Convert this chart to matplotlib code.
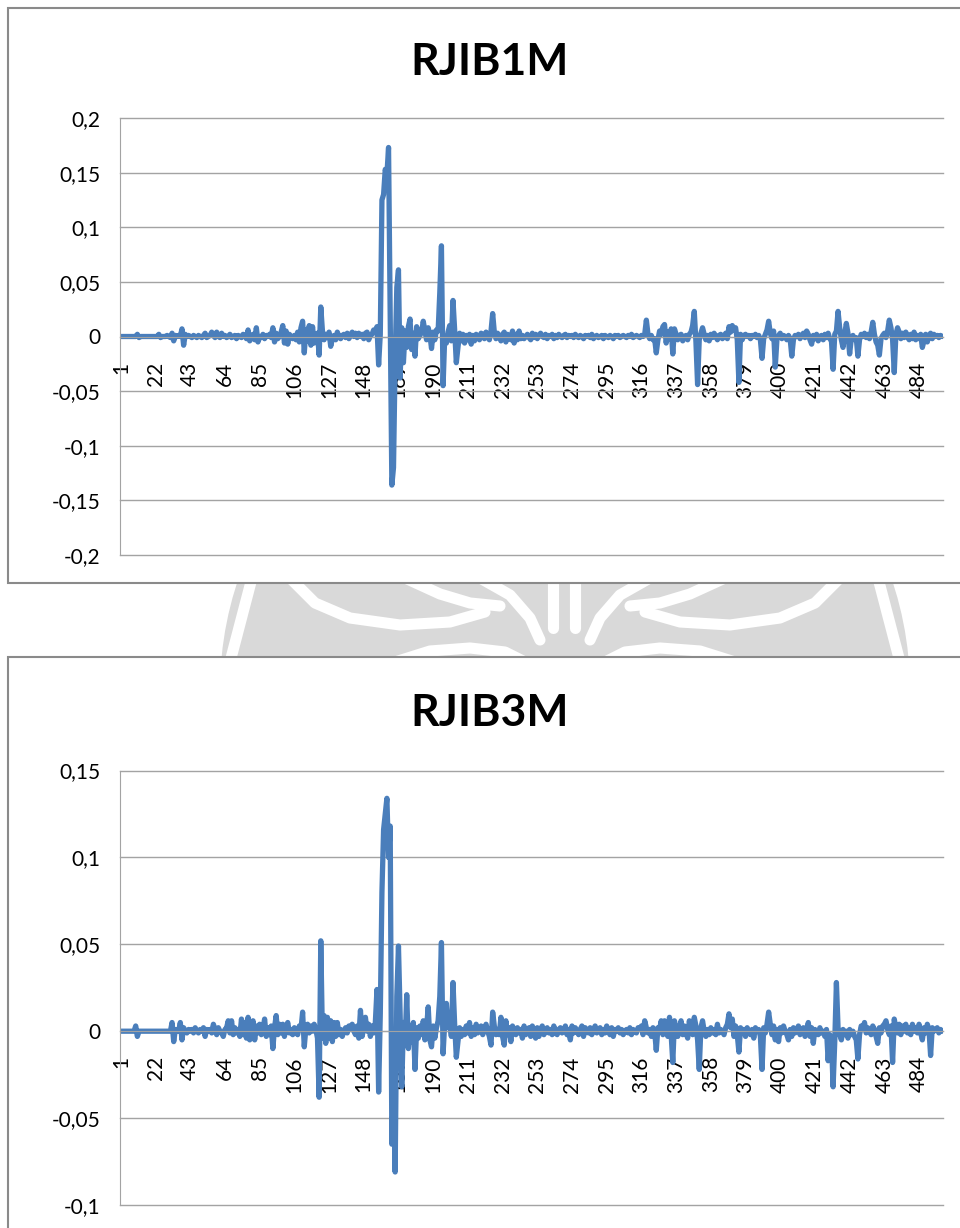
import numpy as np
import matplotlib
matplotlib.use("Agg")
import matplotlib.pyplot as plt
from matplotlib.patches import Rectangle, Circle

plt.rcParams["font.family"] = ["Lato", "DejaVu Sans"]

# series values, in thousandths
rjib1m_milli = [
    0, 0, 0, 0, 0, 0, 0, 0, 0, 0, 2, -1, 0, 0, 0, 0, 0, 0, 0, 0, 0,
    0, 0, 2, -1, 0, 0, 0, 1, 0, -1, 3, -4, 1, 0, 1, 0, 7, -8, 2, 0, 1,
    0, -1, 1, 0, -1, 1, 0, -1, 1, 3, -1, 0, 1, 4, 1, -1, 4, 0, -1, 3, 0,
    1, -1, 0, 2, -1, 0, 1, -2, 1, 0, -1, 2, 1, -2, 6, -4, 0, 2, -3, 8, -5,
    0, -1, 2, -2, 1, 0, 2, -1, 8, -5, 3, -2, 0, 4, 10, -6, 5, -7, 2, 0, -2,
    1, -3, 4, -5, 8, 14, -15, 6, -4, 10, -8, 9, -6, 2, 3, -17, 27, 5, -3, 2, -1,
    4, -9, -2, 1, -3, 4, 0, -2, 1, 2, -1, 3, -2, 1, 4, 0, 3, -1, 3, 0, 2,
    -2, 3, 4, -3, 1, 2, 6, 4, 9, -26, 2, 125, 130, 153, 148, 173, 20, -136, -120, -20, 45,
    61, -38, 8, -24, 5, -10, 9, 16, -12, 3, -18, 9, -2, 1, 4, 14, 5, -3, 8, 2, -11,
    4, -3, 6, 5, 40, 83, -45, 0, -6, 4, 10, -4, 33, 6, -24, -10, 3, -4, 2, -6, 1,
    -3, 2, -7, 1, -4, 2, 0, -3, 3, 2, -2, 4, 0, -3, 5, 21, 4, -2, 3, 0, -4,
    2, 4, -5, 2, 0, -3, 5, -6, 2, -3, 5, -2, 1, -2, 0, 2, -1, -3, 3, -1, 2,
    -2, 1, 3, 0, -1, 2, -2, 1, 0, 2, -2, 1, -1, 2, 0, -1, 1, 2, -1, 1, 0,
    1, -1, 2, 0, -1, 1, 0, -2, 1, 0, 1, -1, 2, -2, 0, 1, -1, 0, 1, -2, 1,
    0, -1, 1, 0, -2, 1, 0, 1, -1, 0, 1, 0, -1, 1, 0, 2, -1, 0, 1, 0, -1,
    1, 0, 2, 15, 2, -2, 1, -3, -2, -15, -3, 5, 2, 9, 11, -6, 4, -2, 7, -16, 7,
    2, -3, 1, 2, -4, 0, 1, -3, 2, 4, 10, 23, -5, -44, -3, 3, 8, 2, -3, 1, -4,
    2, -1, 3, 0, -3, 1, 2, -2, 0, 3, -2, 9, 4, 10, 6, 8, -3, -42, 2, -3, 1,
    2, 0, 1, -2, 1, 0, 2, -1, 1, -3, -20, -2, 2, 6, 14, 3, -2, 5, -28, -3, 1,
    3, -2, 1, 0, -3, 1, -2, -18, -3, 1, 0, 2, -2, 1, 3, -1, 5, 2, -3, -7, 1,
    -2, 2, -4, 0, 1, -3, 2, -1, 3, -2, -4, -30, 2, 5, 23, 8, -3, -10, 2, 12, 3,
    -16, -2, 1, -3, -1, -18, -3, 2, 0, 3, -1, 2, -2, 4, 13, 2, -5, -8, -17, -2, 1,
    3, -1, 5, 15, 8, -3, -33, 2, 8, 4, -2, 3, -1, 4, 0, -3, 2, -2, 4, -3, 1,
    -2, 2, -10, -4, 2, -5, 1, 3, -2, 2, 0, 1, -1, 1, 0,
]

rjib3m_milli = [
    0, 0, 0, 0, 0, 0, 0, 0, 0, 3, -3, 0, 0, 0, 0, 0, 0, 0, 0, 0, 0,
    0, 0, 0, 0, 0, 0, 0, 0, 0, 0, 5, -6, 1, 0, 0, 5, -5, 2, 0, -1, 1,
    0, 1, -1, 2, 0, -1, 1, 0, 2, -3, 1, 0, 1, -1, 4, 1, -2, 2, 0, -1, -3,
    1, 2, 6, -1, 6, -2, 2, -1, 1, -3, 7, -2, 5, -4, 8, -5, 2, 6, -5, 3, -1,
    4, -2, 1, 7, -3, 2, -2, 3, -10, 2, 9, -2, 4, -1, 4, -3, 2, 5, -1, 1, -2,
    2, 0, -2, 3, 1, 11, -9, 2, 4, -1, 3, 0, 4, 1, -4, -38, 52, -4, 9, -7, 8,
    -4, 6, -6, 5, -3, 5, -2, 1, -3, 0, 2, -1, 3, 1, 4, 0, -2, 3, -4, 12, -3,
    2, 8, 0, 4, -3, 3, -1, 5, 24, -35, 10, 80, 116, 125, 134, 100, 118, -65, -30, -81, 20,
    49, 10, -32, 5, -8, 21, -10, 3, -6, 5, -22, 2, -4, 3, -2, 6, -5, 2, 14, -5, -9,
    3, -4, 2, 6, 20, 51, -13, 5, 16, 2, 6, -3, 28, 4, -15, -6, 2, -3, 1, -2, 3,
    -1, 5, -3, 2, -2, 4, -1, 0, 3, -2, 1, 4, 0, -3, -8, 11, 3, -2, 1, -2, 8,
    -3, -8, 6, -2, 2, -6, 3, 0, -2, 2, -1, 1, -4, 3, -2, 1, 2, -3, 3, -1, -4,
    2, -3, 1, 3, -2, 0, 2, -1, 1, -2, 3, 0, -2, 1, 2, -1, 0, 3, -2, 1, -5,
    3, -1, 2, 0, -2, 1, 3, -3, 2, 0, -1, 2, -2, 1, 3, -1, 0, 2, -2, 1, -1,
    3, 0, -2, 2, -3, 1, 0, 2, -1, 1, -2, 0, 1, -1, 2, -2, 1, 0, -1, 2, 1,
    3, -2, 6, 2, -1, 1, -3, 2, 0, -11, 2, 1, 6, -2, 6, 2, -3, 8, -2, -18, 6,
    1, -3, 2, 6, -2, 3, -1, -4, 6, 2, -2, 8, 3, -5, -22, 2, 6, 0, -3, 1, -2,
    2, -1, 1, -2, 4, -1, 1, 0, -2, 2, 4, 10, 2, 7, -3, 3, -2, -12, 2, -1, 1,
    -3, 2, 0, -2, 1, -4, 2, 0, 1, -3, -22, 2, -1, 4, 11, 4, -2, 3, -5, 1, -6,
    2, -1, 3, 0, -2, -5, 1, -3, 2, -1, 0, 3, -2, 1, 2, -3, 1, 5, -3, 2, -7,
    1, 0, -2, 2, -1, 0, -3, 1, -17, -2, -5, -32, -6, 28, 2, -2, -5, 1, -2, 0, -4,
    1, -2, 0, -3, -5, -16, -2, 3, 1, 5, -1, 2, 0, -2, 3, 1, -3, -7, 2, -1, 3,
    4, 6, 1, -2, 3, -18, 7, 2, -1, 4, -2, 3, 0, 4, -1, 2, -2, 4, 0, 2, -1,
    4, -1, -5, 2, -1, 4, 1, -14, 2, 0, 1, 2, -1, 1, 0,
]

x_tick_labels = [1, 22, 43, 64, 85, 106, 127, 148, 169, 190, 211, 232, 253,
                 274, 295, 316, 337, 358, 379, 400, 421, 442, 463, 484]
yticks_1m = [-0.2, -0.15, -0.1, -0.05, 0, 0.05, 0.1, 0.15, 0.2]
yticks_3m = [-0.1, -0.05, 0, 0.05, 0.1, 0.15]

LINE_COLOR = "#4a7ebb"
GRID_COLOR = "#a3a3a3"
W, H = 960, 1228

fig = plt.figure(figsize=(W / 100, H / 100), dpi=100)

# background layer in pixel coordinates: watermark + chart frames
bg = fig.add_axes([0, 0, 1, 1], zorder=0)
bg.set_xlim(0, W)
bg.set_ylim(H, 0)
bg.axis("off")

bg.add_patch(Circle((565, 690), 345, color="#d9d9d9", lw=0))
strokes = [
    [(230, 662), (252, 578)],
    [(900, 662), (878, 578)],
    [(290, 578), (315, 603), (350, 618), (400, 625), (450, 622), (485, 612)],
    [(840, 578), (815, 603), (780, 618), (730, 625), (680, 622), (645, 612)],
    [(405, 578), (440, 594), (470, 603), (500, 606)],
    [(725, 578), (690, 594), (660, 603), (630, 606)],
    [(480, 578), (510, 595), (530, 618), (540, 640)],
    [(650, 578), (620, 595), (600, 618), (590, 640)],
    [(553, 578), (553, 628)],
    [(575, 578), (575, 628)],
    [(395, 662), (430, 651), (470, 648), (505, 652), (525, 662)],
    [(735, 662), (700, 651), (660, 648), (625, 652), (605, 662)],
]
for s in strokes:
    xs, ys = zip(*s)
    bg.plot(xs, ys, color="white", lw=8, solid_capstyle="round",
            solid_joinstyle="round")

for y0, h in [(8, 575), (657, 700)]:
    bg.add_patch(Rectangle((8, y0), 1000, h, facecolor="white",
                           edgecolor="#8a8a8a", lw=1.5, zorder=3))


def fmt(v):
    return f"{v:g}".replace(".", ",")


def draw_chart(rect, values_milli, yticks, title, title_y):
    values = np.array(values_milli) / 1000.0
    cats = np.arange(1, len(values) + 1)
    ax = fig.add_axes(rect, zorder=2)
    ax.set_facecolor("none")
    # axis line crosses at zero; set before ticks (it resets them)
    ax.spines["top"].set_visible(False)
    ax.spines["right"].set_visible(False)
    ax.spines["bottom"].set_position(("data", 0))
    ax.spines["bottom"].set_color(GRID_COLOR)
    ax.spines["left"].set_color(GRID_COLOR)
    ax.plot(cats, values, color=LINE_COLOR, lw=3.8,
            solid_joinstyle="round", solid_capstyle="round")
    ax.set_xlim(0.5, len(values) + 0.5)
    ax.set_ylim(yticks[0], yticks[-1])
    ax.set_yticks(yticks)
    ax.set_yticklabels([fmt(v) for v in yticks])
    ax.set_xticks(x_tick_labels)
    ax.set_xticklabels([str(c) for c in x_tick_labels])
    ax.grid(axis="y", color=GRID_COLOR, lw=1)
    ax.set_axisbelow(True)
    for gl in ax.get_ygridlines():
        gl.set_clip_on(False)
    ax.tick_params(axis="x", length=0, pad=18, labelsize=15, labelrotation=90)
    ax.tick_params(axis="y", length=0, pad=14, labelsize=15)
    fig.text(490 / W, 1 - title_y / H, title, ha="center", va="center",
             fontsize=32, fontweight="bold")
    return ax


# plot areas in pixels: left 120, right 943
draw_chart([120 / W, 1 - 555 / H, 823 / W, 437 / H], rjib1m_milli, yticks_1m,
           "RJIB1M", 62)
draw_chart([120 / W, 1 - 1205 / H, 823 / W, 434.5 / H], rjib3m_milli, yticks_3m,
           "RJIB3M", 713)

fig.savefig("out.png", dpi=100)
